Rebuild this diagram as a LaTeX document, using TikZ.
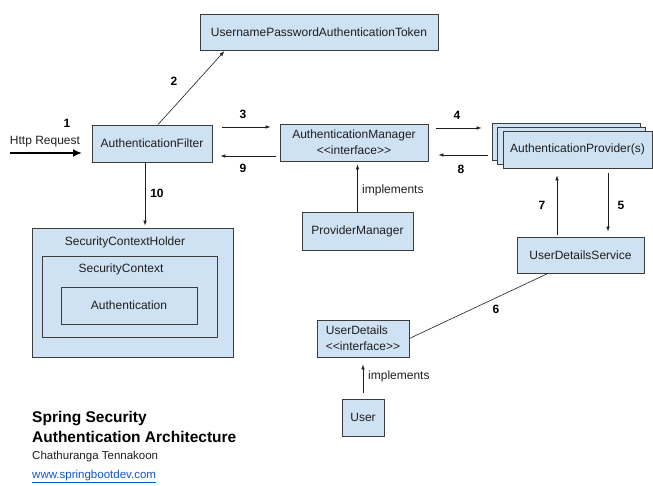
\documentclass[tikz,border=0pt]{standalone}
\usepackage{fontspec}
\setmainfont{Liberation Sans}
\usetikzlibrary{arrows.meta, positioning}
\definecolor{boxblue}{HTML}{CFE2F3}
\definecolor{boxline}{HTML}{3C3C3C}
\definecolor{inktext}{HTML}{1E1E1E}
\definecolor{linkblue}{HTML}{1155CC}
\newcommand{\stereo}[1]{<{}<#1>{}>}

\begin{document}
\begin{tikzpicture}[
  x=1pt, y=-1pt,
  box/.style={draw=boxline, line width=0.8pt, fill=boxblue, minimum height=37pt, inner sep=2pt, align=center, text=inktext, font=\fontsize{12}{16}\selectfont},
  flowarrow/.style={-{Latex[length=5pt, width=3.5pt]}, draw=inktext, line width=0.6pt},
  num/.style={inner sep=0pt, text=black, font=\bfseries\fontsize{12}{14}\selectfont},
  note/.style={inner sep=0pt, text=inktext, font=\fontsize{12}{14}\selectfont}
]
  \useasboundingbox (0,0) rectangle (653,486);

  % boxes
  \node[box, minimum width=238pt, minimum height=36pt] (token) at (319,32) {UsernamePasswordAuthenticationToken};
  \node[box, minimum width=120pt] (filter) at (152,143.5) {AuthenticationFilter};
  \node[box, minimum width=148pt] (mgr) at (354,142.5) {AuthenticationManager\\\stereo{interface}};
  \node[box, minimum width=148pt] (prov3) at (566,142) {};
  \node[box, minimum width=148pt] (prov2) at (571.5,146) {};
  \node[box, minimum width=149pt] (prov) at (577.5,149.5) {AuthenticationProvider(s)};
  \node[box, minimum width=111pt, minimum height=38pt] (provmgr) at (357.5,231) {ProviderManager};
  \node[box, minimum width=127pt, minimum height=36pt] (uds) at (580.5,255) {UserDetailsService};
  \node[box, minimum width=92pt, align=left] (udetails) at (363,338.5) {UserDetails\\\stereo{interface}};
  \node[box, minimum width=42pt] (user) at (363,417.5) {User};

  % holder with nested context
  \node[box, minimum width=201pt, minimum height=129pt] (sch) at (132.5,292.5) {};
  \node[box, minimum width=175pt, minimum height=81pt] (sc) at (129.5,296.5) {};
  \node[box, minimum width=136pt] (auth) at (129,305.5) {Authentication};
  \node[note] (schtext) at (125,242) {SecurityContextHolder};
  \node[note] (sctext) at (121,269.5) {SecurityContext};

  % request
  \node[note] (req) at (45,142) {Http Request};
  \coordinate (reqin) at (10,153);
  \coordinate (reqout) at (82,153);
  \draw[-{Latex[length=9pt, width=8pt]}, draw=black, line width=1.8pt] (reqin) -- (reqout);

  % connectors
  \draw[flowarrow, shorten >=1pt] ([xshift=6pt]filter.north) -- ([xshift=-94pt]token.south);
  \draw[flowarrow, shorten <=10pt, shorten >=9pt] (filter.east |- 0,127) -- (mgr.west |- 0,127);
  \draw[flowarrow, shorten <=4pt, shorten >=8pt] (mgr.west |- 0,156) -- (filter.east |- 0,156);
  \draw[flowarrow, shorten <=8pt, shorten >=10pt] (mgr.east |- 0,128) -- (prov3.west |- 0,128);
  \draw[flowarrow, shorten <=4pt, shorten >=10pt] (prov3.west |- 0,155) -- (mgr.east |- 0,155);
  \draw[flowarrow, shorten <=5pt, shorten >=5pt] (prov.south -| 608,0) -- (uds.north -| 608,0);
  \draw[flowarrow, shorten <=2pt, shorten >=7pt] (uds.north -| 557,0) -- (prov.south -| 557,0);
  \draw[draw=inktext, line width=0.6pt] ([xshift=-32.5pt]uds.south) -- (udetails.east);
  \draw[flowarrow, shorten >=2pt] ([xshift=-7pt]filter.south) -- ([xshift=-7pt]filter.south |- sch.north);
  \draw[flowarrow, shorten >=3pt] (provmgr.north) -- (mgr.south -| provmgr.north);
  \draw[flowarrow, shorten <=6pt, shorten >=7pt] (user.north) -- (udetails.south);

  % labels
  \node[num] (n1) at (67,123) {1};
  \node[num] (n2) at (174,81) {2};
  \node[num] (n3) at (243,114) {3};
  \node[num] (n4) at (457,115) {4};
  \node[num] (n5) at (621,205) {5};
  \node[num] (n6) at (496,309) {6};
  \node[num] (n7) at (542,205) {7};
  \node[num] (n8) at (461,169) {8};
  \node[num] (n9) at (243,168) {9};
  \node[num] (n10) at (157,193) {10};
  \node[note, anchor=west] (impl1) at (362,190) {implements};
  \node[note, anchor=west] (impl2) at (368,376) {implements};

  % title block
  \node[inner sep=0pt, anchor=base west, font=\bfseries\fontsize{15.5}{19}\selectfont] (title1) at (32,422) {Spring Security};
  \node[inner sep=0pt, anchor=base west, font=\bfseries\fontsize{15.5}{19}\selectfont] (title2) at (32,442) {Authentication Architecture};
  \node[inner sep=0pt, anchor=base west, text=inktext, font=\fontsize{11.5}{14}\selectfont] (author) at (32,459) {Chathuranga Tennakoon};
  \node[inner sep=0pt, anchor=base west, text=linkblue, font=\fontsize{11.5}{14}\selectfont] (site) at (32,478) {\underline{www.springbootdev.com}};
\end{tikzpicture}
\end{document}
